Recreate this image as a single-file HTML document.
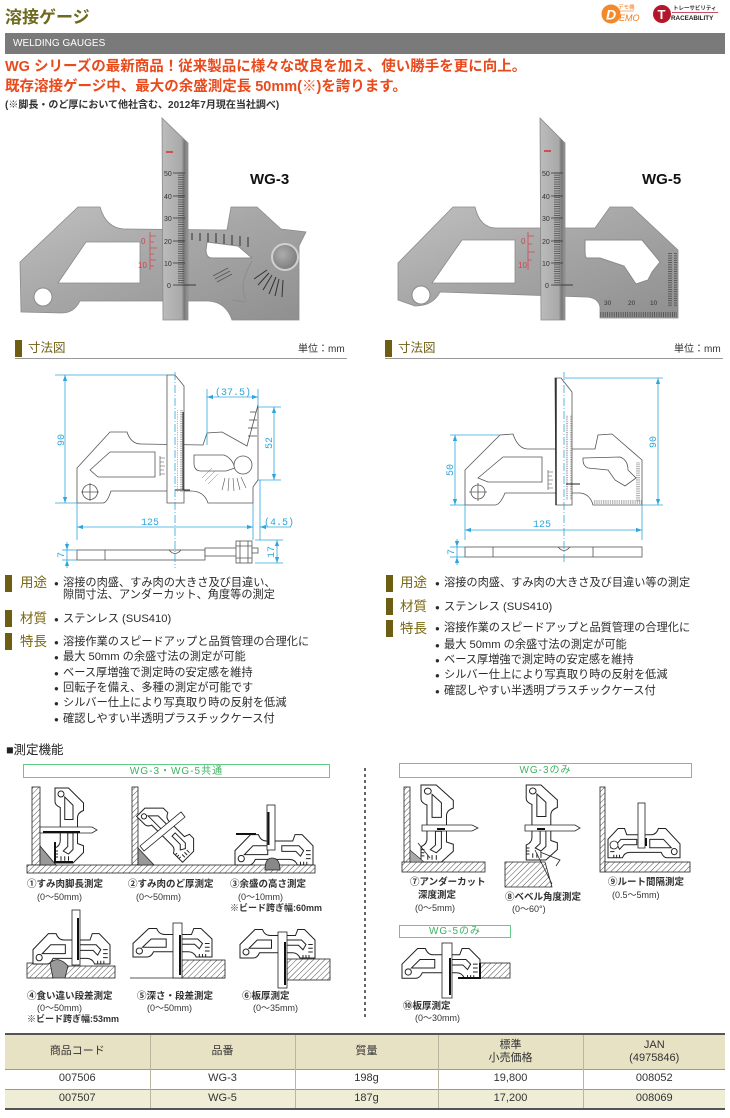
<!DOCTYPE html>
<html><head><meta charset="utf-8">
<style>
*{margin:0;padding:0;box-sizing:border-box}
body{width:730px;height:1118px;position:relative;overflow:hidden;background:#fff;font-family:"Liberation Sans","Noto Sans CJK JP",sans-serif;color:#2b2b2b}
.t{position:absolute;white-space:nowrap;line-height:1}
svg{position:absolute;left:0;top:0}
.bar{position:absolute;background:#6e5e14}
.lab{position:absolute;white-space:nowrap;line-height:1;font-size:13.5px;color:#7a6a12}
.b{position:absolute;white-space:nowrap;line-height:1;font-size:11.2px;color:#2b2b2b}
.b i{font-style:normal;font-size:8px;position:absolute;left:-9px;top:2px}
.cap{position:absolute;white-space:nowrap;line-height:1;font-size:9.5px;font-weight:bold;color:#333}
.sub{position:absolute;white-space:nowrap;line-height:1;font-size:9px;color:#333}
.gbox{position:absolute;border:1px solid #62cc84;color:#3db260;font-size:10px;text-align:center;letter-spacing:1px;line-height:1}
table{position:absolute;left:5px;top:1033px;width:720px;border-collapse:collapse;font-size:11px;color:#333;text-align:center;font-family:"Liberation Sans","Noto Sans CJK JP",sans-serif}
td{border-left:1px solid #b9b6a0;border-right:1px solid #b9b6a0;padding:0;line-height:1.2}
</style></head><body>
<svg width="730" height="1118" viewBox="0 0 730 1118">
<defs>
<linearGradient id="mt" x1="0" y1="0" x2="1" y2="1"><stop offset="0" stop-color="#c0c0c0"/><stop offset=".45" stop-color="#a7a7a7"/><stop offset="1" stop-color="#8f8f8f"/></linearGradient>
<linearGradient id="sl" x1="0" y1="0" x2="1" y2="0"><stop offset="0" stop-color="#bcbcbc"/><stop offset=".75" stop-color="#a9a9a9"/><stop offset=".86" stop-color="#777"/><stop offset="1" stop-color="#999"/></linearGradient>
<radialGradient id="kn" cx=".4" cy=".4" r=".65"><stop offset="0" stop-color="#adadad"/><stop offset="1" stop-color="#7a7a7a"/></radialGradient>
<pattern id="h" width="4" height="4" patternUnits="userSpaceOnUse" patternTransform="rotate(45)"><rect width="4" height="4" fill="#fff"/><line x1="0" y1="0" x2="0" y2="4" stroke="#222" stroke-width=".8"/></pattern>
<pattern id="tk" width="8" height="2.24" patternUnits="userSpaceOnUse"><line x1="2" y1=".5" x2="8" y2=".5" stroke="#333" stroke-width=".6"/></pattern>
<pattern id="tkv" width="2.24" height="8" patternUnits="userSpaceOnUse"><line x1=".5" y1="0" x2=".5" y2="5" stroke="#333" stroke-width=".6"/></pattern>
<pattern id="tk2" width="6" height="1.8" patternUnits="userSpaceOnUse"><line x1="0" y1=".4" x2="4" y2=".4" stroke="#444" stroke-width=".4"/></pattern>
<pattern id="tk2v" width="1.8" height="6" patternUnits="userSpaceOnUse"><line x1=".4" y1="2" x2=".4" y2="6" stroke="#444" stroke-width=".4"/></pattern>
<marker id="a" viewBox="0 0 6 6" refX="6" refY="3" markerWidth="6" markerHeight="6" markerUnits="userSpaceOnUse" orient="auto-start-reverse"><path d="M0,0.9 L6,3 L0,5.1z" fill="#2ea6dc"/></marker>
<g id="gb">
<path vector-effect="non-scaling-stroke" fill="#fff" stroke="#222" stroke-width="1" d="M0,40 L0,22 L20,2 L30,2 Q33,10 40,10 L74,10 L77,2 L86,2 L100,16 L100,40 L80,40 Q77,33 70,33 L26,33 Q23,40 18,40 Z"/>
<path vector-effect="non-scaling-stroke" fill="#fff" stroke="#222" stroke-width="1" d="M12,27 L23,16 L42,16 L42,27 Z"/>
<circle vector-effect="non-scaling-stroke" fill="#fff" stroke="#222" stroke-width="1" cx="8" cy="32" r="4"/>
<path vector-effect="non-scaling-stroke" fill="#fff" stroke="#222" stroke-width="1" d="M60,16 L82,16 L88,22 L84,29 L78,23 L60,23 Z"/>
<path vector-effect="non-scaling-stroke" fill="none" stroke="#222" stroke-width="1" d="M91,22 L97,22 M91,27 L97,27 M91,32 L97,32 M84,36 L84,40 M88,36 L88,40 M92,36 L92,40"/>
</g>
</defs>

<!-- logos -->
<circle cx="611" cy="14" r="9.5" fill="#f28a2a"/>
<text x="606" y="19.5" font-family="Liberation Sans" font-weight="bold" font-style="italic" font-size="14" fill="#fff">D</text>
<text x="618" y="9" font-family="Noto Sans CJK JP" font-size="5.5" fill="#f07a20">デモ機</text>
<line x1="618" y1="11" x2="634" y2="11" stroke="#f07a20" stroke-width=".6"/>
<text x="619" y="21" font-family="Liberation Sans" font-style="italic" font-size="9" fill="#f07a20">EMO</text>
<circle cx="662" cy="14" r="9" fill="#b5172a"/>
<text x="657.5" y="19" font-family="Liberation Sans" font-weight="bold" font-size="13" fill="#fff">T</text>
<text x="673" y="10" font-family="Noto Sans CJK JP" font-weight="bold" font-size="5.5" fill="#333">トレーサビリティ</text>
<line x1="672" y1="12.5" x2="718" y2="12.5" stroke="#b5172a" stroke-width=".7"/>
<text x="671" y="20" font-family="Liberation Sans" font-weight="bold" font-size="6.3" fill="#222">RACEABILITY</text>

<!-- WG-3 photo -->
<path d="M20,262 L78,207 L100,207 Q106,228 124,229 L227,230 L231,207 L257,207 L281,229 L306,232 L299,246 L299,320 L232,320 Q226,302 208,301 L80,301 Q74,313 62,313 L21,312 Z" fill="url(#mt)" stroke="#8a8a8a" stroke-width=".8"/>
<path d="M58,283 L86,242 L140,242 L140,283 Z" fill="#fff" stroke="#8a8a8a" stroke-width=".8"/>
<circle cx="43" cy="297" r="9" fill="#fff" stroke="#8a8a8a"/>
<path d="M207,242 L238,246 L252,258 L212,258 Q206,258 206,250 Z" fill="#fff" stroke="#8a8a8a"/>
<path d="M192,233 V240 M200,233 V241 M208,233 V242 M216,233 V243 M224,234 V244 M232,235 V245 M240,236 V246 M248,237 V247" stroke="#444" stroke-width="1.2"/>
<path d="M252,261 Q238,285 246,300 M232,300 L246,302" fill="none" stroke="#8d8d8d" stroke-width="1"/>
<path d="M283,280 L282,297 M279,279 L275,296 M276,277 L269,294 M272,275 L263,290 M269,273 L258,285 M267,270 L254,279" stroke="#333" stroke-width="1"/>
<path d="M213,276 L228,268 M215,279 L230,271 M217,282 L232,274" stroke="#555" stroke-width=".8"/>
<circle cx="285" cy="257" r="13" fill="url(#kn)" stroke="#d0d0d0" stroke-width="2"/>
<path d="M150,232 V270 M150,236 H156 M150,242 H154 M150,248 H157 M150,254 H154 M150,260 H156 M150,266 H154" stroke="#d24a55" stroke-width=".8"/>
<text x="141" y="244" font-family="Liberation Sans" font-size="8" fill="#d2404c">0</text>
<text x="138" y="268" font-family="Liberation Sans" font-size="8" fill="#d2404c">10</text>
<path d="M162,118 L188,143 L188,320 L163,320 Z" fill="url(#sl)" stroke="#8a8a8a" stroke-width=".8"/>
<rect x="176" y="172" width="8" height="114" fill="url(#tk)"/>
<path d="M173,173 H185 M173,196 H185 M173,218 H185 M173,241 H185 M173,263 H185 M173,285 H185" stroke="#333" stroke-width=".8"/>
<g font-family="Liberation Sans" font-size="7" fill="#333"><text x="164" y="176">50</text><text x="164" y="199">40</text><text x="164" y="221">30</text><text x="164" y="244">20</text><text x="164" y="266">10</text><text x="167" y="288">0</text></g>
<path d="M185,285 H196" stroke="#222" stroke-width=".8"/>
<line x1="166" y1="152" x2="173" y2="152" stroke="#d22" stroke-width="1.4"/>
<text x="250" y="184" font-family="Liberation Sans" font-weight="bold" font-size="15" fill="#111">WG-3</text>

<!-- WG-5 photo -->
<path d="M398,263 L453,207 L475,207 Q480,228 496,228 L595,228 L610,207 L632,207 L678,250 L678,318 L600,318 L600,307 Q598,297 585,297 L440,292 Q433,306 415,306 L398,300 Z" fill="url(#mt)" stroke="#8a8a8a" stroke-width=".8"/>
<path d="M432,283 L462,240 L515,240 L515,283 Z" fill="#fff" stroke="#8a8a8a" stroke-width=".8"/>
<circle cx="421" cy="295" r="9" fill="#fff" stroke="#8a8a8a"/>
<path d="M585,240 L642,240 L652,252 L660,262 L652,272 L648,280 L636,284 L624,266 L600,258 L587,258 Q585,258 585,250 Z" fill="#fff" stroke="#8a8a8a"/>
<rect x="600" y="309" width="77" height="9" fill="url(#tkv)"/>
<rect x="668" y="252" width="9" height="55" fill="url(#tk)"/>
<g font-family="Liberation Sans" font-size="6.5" fill="#333"><text x="604" y="305">30</text><text x="628" y="305">20</text><text x="650" y="305">10</text></g>
<path d="M528,232 V270 M528,236 H534 M528,244 H532 M528,252 H535 M528,260 H532" stroke="#d24a55" stroke-width=".8"/>
<text x="521" y="244" font-family="Liberation Sans" font-size="8" fill="#d2404c">0</text>
<text x="518" y="268" font-family="Liberation Sans" font-size="8" fill="#d2404c">10</text>
<path d="M540,118 L565,143 L565,320 L541,320 Z" fill="url(#sl)" stroke="#8a8a8a" stroke-width=".8"/>
<rect x="554" y="172" width="8" height="114" fill="url(#tk)"/>
<path d="M551,173 H563 M551,196 H563 M551,218 H563 M551,241 H563 M551,263 H563 M551,285 H563" stroke="#333" stroke-width=".8"/>
<g font-family="Liberation Sans" font-size="7" fill="#333"><text x="542" y="176">50</text><text x="542" y="199">40</text><text x="542" y="221">30</text><text x="542" y="244">20</text><text x="542" y="266">10</text><text x="545" y="288">0</text></g>
<path d="M563,285 H573" stroke="#222" stroke-width=".8"/>
<line x1="544" y1="151" x2="551" y2="151" stroke="#d22" stroke-width="1.4"/>
<text x="642" y="184" font-family="Liberation Sans" font-weight="bold" font-size="15" fill="#111">WG-5</text>

<!-- section underlines -->
<line x1="15" y1="358.5" x2="347" y2="358.5" stroke="#999" stroke-width="1"/>
<line x1="385" y1="358.5" x2="723" y2="358.5" stroke="#999" stroke-width="1"/>

<!-- Left dimension drawing -->
<g fill="#fff" stroke="#555" stroke-width=".8">
<path d="M77,503 L77,468 L110,432 L127,432 Q131,444 141,444 L203,445 L207,433 L222,432 L247,446 L258,405 L258,480 L253,487 L253,503 L208,503 Q204,491 191,491 L111,491 Q107,503 103,503 Z"/>
<path d="M90,470 L110,452 L155,452 L155,477 L98,477 Z"/>
<circle cx="90" cy="492" r="7.5"/>
<path d="M81,492 H99 M90,483 V501" fill="none"/>
<path d="M194,455 L224,455 Q232,458 235,468 L226,471 L201,471 Q194,471 194,463 Z"/>
<circle cx="243" cy="465" r="9"/>
<path d="M167,375 L175,375 L184,386 L184,503 L167,503 Z"/>
</g>
<rect x="177" y="410" width="6" height="82" fill="url(#tk2)"/>
<path d="M183,412 V490 M175,490 H190" stroke="#222" stroke-width="1"/>
<path d="M160,456 V476 M160,458 H165 M160,462 H164 M160,466 H165 M160,470 H164 M160,474 H165" stroke="#444" stroke-width=".6"/>
<path d="M250,412 L256,412 M249,420 L257,420 M248,428 L257,428 M248,436 L257,436" stroke="#444" stroke-width=".7"/>
<path d="M225,478 L222,490 M229,478 L228,491 M233,478 L234,491 M237,478 L240,490 M241,477 L246,488" stroke="#555" stroke-width=".6"/>
<path d="M202,478 L212,468 M205,481 L215,471 M208,484 L218,474" stroke="#777" stroke-width=".5"/>
<g fill="#fff" stroke="#555" stroke-width=".8">
<rect x="77" y="550" width="128" height="10"/>
<line x1="105" y1="550" x2="105" y2="560"/>
<path d="M169,550 Q175,557 181,550" fill="none"/>
<rect x="205" y="548" width="32" height="8"/>
<rect x="236" y="541" width="16" height="22"/>
<path d="M236,546 H252 M236,558 H252 M240,541 V563 M248,541 V563" fill="none"/>
<rect x="252" y="548" width="6" height="5"/>
</g>
<g stroke="#2ea6dc" stroke-width=".8" fill="none">
<line x1="175" y1="372" x2="175" y2="568" stroke-dasharray="8 2 1 2"/>
<line x1="55" y1="375" x2="167" y2="375"/>
<line x1="55" y1="503" x2="77" y2="503"/>
<line x1="65" y1="375" x2="65" y2="503" marker-start="url(#a)" marker-end="url(#a)"/>
<line x1="207" y1="389" x2="207" y2="445"/>
<line x1="258" y1="389" x2="258" y2="405"/>
<line x1="207" y1="397" x2="258" y2="397" marker-start="url(#a)" marker-end="url(#a)"/>
<line x1="258" y1="407" x2="281" y2="407"/>
<line x1="258" y1="480" x2="281" y2="480"/>
<line x1="274" y1="407" x2="274" y2="480" marker-start="url(#a)" marker-end="url(#a)"/>
<line x1="77" y1="503" x2="77" y2="540"/>
<line x1="253" y1="503" x2="253" y2="540"/>
<line x1="260" y1="480" x2="260" y2="540"/>
<line x1="77" y1="527" x2="253" y2="527" marker-start="url(#a)" marker-end="url(#a)"/>
<line x1="260" y1="527" x2="291" y2="527" marker-start="url(#a)"/>
<line x1="62" y1="550" x2="77" y2="550"/>
<line x1="62" y1="560" x2="77" y2="560"/>
<line x1="67" y1="542" x2="67" y2="550" marker-end="url(#a)"/>
<line x1="67" y1="568" x2="67" y2="560" marker-end="url(#a)"/>
<line x1="67" y1="550" x2="67" y2="560"/>
<line x1="255" y1="540" x2="283" y2="540"/>
<line x1="255" y1="563" x2="283" y2="563"/>
<line x1="277" y1="540" x2="277" y2="563" marker-start="url(#a)" marker-end="url(#a)"/>
</g>
<g font-family="Liberation Mono" font-size="10" fill="#2ea6dc">
<text transform="translate(64,440) rotate(-90)" text-anchor="middle">90</text>
<text x="233" y="395" text-anchor="middle">(37.5)</text>
<text transform="translate(272,443) rotate(-90)" text-anchor="middle">52</text>
<text x="150" y="525" text-anchor="middle">125</text>
<text x="264" y="525">(4.5)</text>
<text transform="translate(64,555) rotate(-90)" text-anchor="middle">7</text>
<text transform="translate(274,552) rotate(-90)" text-anchor="middle">17</text>
</g>

<!-- Right dimension drawing -->
<g fill="#fff" stroke="#555" stroke-width=".8">
<path d="M465,505 L465,470 L500,435 L513,434 Q518,449 528,449 L595,449 L598,435 L612,434 L642,460 L642,505 L593,505 Q590,494 580,493 L505,493 Q500,505 495,505 Z"/>
<path d="M478,478 L503,457 L542,457 L542,482 L488,482 Z"/>
<circle cx="478" cy="492" r="7"/>
<path d="M469,492 H487 M478,483 V501" fill="none"/>
<path d="M583,458 L620,457 Q628,460 628,470 L636,478 L625,486 L615,480 L608,470 L588,468 Q583,466 583,460 Z"/>
<path d="M555,378 L561,378 L572,392 L572,505 L556,505 Z"/>
</g>
<line x1="556" y1="378" x2="556" y2="505" stroke="#222" stroke-width="1.4"/>
<rect x="566" y="415" width="6" height="85" fill="url(#tk2)"/>
<path d="M566,484 H580" stroke="#222" stroke-width="1"/>
<rect x="593" y="499" width="49" height="6" fill="url(#tk2v)"/>
<rect x="636" y="462" width="6" height="40" fill="url(#tk2)"/>
<path d="M548,470 V490 M548,472 H553 M548,476 H552 M548,480 H553 M548,484 H552 M548,488 H553" stroke="#444" stroke-width=".6"/>
<g fill="#fff" stroke="#555" stroke-width=".8">
<rect x="465" y="547" width="177" height="10"/>
<path d="M493,547 V557 M593,547 V557" fill="none"/>
<path d="M558,547 Q564,554 570,547" fill="none"/>
</g>
<g stroke="#2ea6dc" stroke-width=".8" fill="none">
<line x1="564" y1="372" x2="564" y2="562" stroke-dasharray="8 2 1 2"/>
<line x1="565" y1="378" x2="663" y2="378"/>
<line x1="642" y1="505" x2="663" y2="505"/>
<line x1="658" y1="378" x2="658" y2="505" marker-start="url(#a)" marker-end="url(#a)"/>
<line x1="450" y1="435" x2="500" y2="435"/>
<line x1="450" y1="505" x2="465" y2="505"/>
<line x1="455" y1="435" x2="455" y2="505" marker-start="url(#a)" marker-end="url(#a)"/>
<line x1="465" y1="505" x2="465" y2="540"/>
<line x1="642" y1="505" x2="642" y2="540"/>
<line x1="465" y1="530" x2="642" y2="530" marker-start="url(#a)" marker-end="url(#a)"/>
<line x1="450" y1="547" x2="465" y2="547"/>
<line x1="450" y1="557" x2="465" y2="557"/>
<line x1="457" y1="539" x2="457" y2="547" marker-end="url(#a)"/>
<line x1="457" y1="565" x2="457" y2="557" marker-end="url(#a)"/>
<line x1="457" y1="547" x2="457" y2="557"/>
</g>
<g font-family="Liberation Mono" font-size="10" fill="#2ea6dc">
<text transform="translate(656,442) rotate(-90)" text-anchor="middle">90</text>
<text transform="translate(453,470) rotate(-90)" text-anchor="middle">50</text>
<text x="542" y="527" text-anchor="middle">125</text>
<text transform="translate(454,552) rotate(-90)" text-anchor="middle">7</text>
</g>

<!-- measurement figures -->
<line x1="365" y1="768" x2="365" y2="1020" stroke="#333" stroke-width="1.5" stroke-dasharray="3 3"/>
<!-- fig1 -->
<rect x="32" y="787" width="8" height="78" fill="url(#h)" stroke="#222" stroke-width=".8"/>
<use href="#gb" transform="translate(85,788) rotate(90) scale(.75)"/>
<path d="M40,827 L92,827 L97,830 L92,833 L40,833 Z" fill="#fff" stroke="#222" stroke-width=".8"/>
<line x1="43" y1="832" x2="80" y2="832" stroke="#111" stroke-width="2"/>
<path d="M55,842 V862 H73" fill="none" stroke="#111" stroke-width="2"/>
<!-- fig2 -->
<rect x="132" y="787" width="6" height="78" fill="url(#h)" stroke="#222" stroke-width=".8"/>
<use href="#gb" transform="translate(155,798) rotate(45) scale(.65)"/>
<path d="M140,846 L181,812 L185,817 L144,851 Z" fill="#fff" stroke="#222" stroke-width=".8"/>
<!-- ground 1-3 -->
<rect x="27" y="865" width="288" height="8" fill="url(#h)" stroke="#222" stroke-width=".8"/>
<path d="M40,846 L40,865 L56,865 Z" fill="#999" stroke="#222" stroke-width=".8"/>
<path d="M138,848 L138,865 L154,865 Z" fill="#999" stroke="#222" stroke-width=".8"/>
<!-- fig3 -->
<use href="#gb" transform="translate(235,833) scale(.78,.8)"/>
<rect x="267" y="805" width="8" height="45" fill="#fff" stroke="#222" stroke-width=".8"/>
<line x1="268.5" y1="812" x2="268.5" y2="845" stroke="#111" stroke-width="2"/>
<line x1="236" y1="834" x2="256" y2="834" stroke="#111" stroke-width="2"/>
<path d="M265,870 Q265,858 272,858 Q280,858 280,870 Z" fill="#888" stroke="#222" stroke-width=".8"/>
<!-- fig4 -->
<rect x="27" y="963" width="26" height="15" fill="url(#h)" stroke="#222" stroke-width=".8"/>
<rect x="65" y="966" width="50" height="12" fill="url(#h)" stroke="#222" stroke-width=".8"/>
<path d="M50,963 Q58,955 68,966 L65,978 L53,978 Z" fill="#999" stroke="#222" stroke-width=".8"/>
<use href="#gb" transform="translate(33,932) scale(.77,.8)"/>
<rect x="72" y="910" width="8" height="55" fill="#fff" stroke="#222" stroke-width=".8"/>
<line x1="78" y1="918" x2="78" y2="960" stroke="#111" stroke-width="2"/>
<!-- fig5 -->
<line x1="130" y1="978" x2="225" y2="978" stroke="#222" stroke-width=".8"/>
<rect x="182" y="960" width="43" height="18" fill="url(#h)" stroke="#222" stroke-width=".8"/>
<use href="#gb" transform="translate(133,927) scale(.79,.75)"/>
<rect x="173" y="923" width="9" height="55" fill="#fff" stroke="#222" stroke-width=".8"/>
<line x1="180" y1="935" x2="180" y2="975" stroke="#111" stroke-width="2"/>
<!-- fig6 -->
<rect x="287" y="959" width="43" height="21" fill="url(#h)" stroke="#222" stroke-width=".8"/>
<use href="#gb" transform="translate(240,928) scale(.75)"/>
<rect x="278" y="932" width="9" height="56" fill="#fff" stroke="#222" stroke-width=".8"/>
<line x1="285" y1="942" x2="285" y2="985" stroke="#111" stroke-width="2"/>
<!-- fig7 -->
<rect x="404" y="787" width="6" height="76" fill="url(#h)" stroke="#222" stroke-width=".8"/>
<rect x="402" y="862" width="83" height="10" fill="url(#h)" stroke="#222" stroke-width=".8"/>
<use href="#gb" transform="translate(455,785) rotate(90) scale(.77,.85)"/>
<path d="M422,825 L472,825 L478,828 L472,831 L422,831 Z" fill="#fff" stroke="#222" stroke-width=".8"/>
<line x1="437" y1="829" x2="445" y2="829" stroke="#111" stroke-width="2"/>
<path d="M410,850 L410,862 L424,862 Z" fill="#aaa" stroke="#222" stroke-width=".6"/>
<line x1="418" y1="843" x2="430" y2="858" stroke="#222" stroke-width=".8"/>
<!-- fig8 -->
<path d="M505,862 L545,862 L552,887 L505,887 Z" fill="url(#h)" stroke="#222" stroke-width=".8"/>
<use href="#gb" transform="translate(559,785) rotate(90) scale(.75,.82)"/>
<path d="M525,825 L575,825 L580,828 L575,831 L525,831 Z" fill="#fff" stroke="#222" stroke-width=".8"/>
<line x1="537" y1="829" x2="545" y2="829" stroke="#111" stroke-width="2"/>
<path d="M535,850 L552,884 M540,852 L560,860 L556,866" fill="none" stroke="#222" stroke-width=".8"/>
<!-- fig9 -->
<rect x="600" y="787" width="5" height="85" fill="url(#h)" stroke="#222" stroke-width=".8"/>
<rect x="605" y="862" width="85" height="10" fill="url(#h)" stroke="#222" stroke-width=".8"/>
<use href="#gb" transform="translate(680,827) scale(-.72,.77)"/>
<rect x="638" y="803" width="7" height="45" fill="#fff" stroke="#222" stroke-width=".8"/>
<line x1="646" y1="838" x2="646" y2="846" stroke="#111" stroke-width="2"/>
<circle cx="614" cy="845" r="4" fill="#fff" stroke="#222" stroke-width=".8"/>
<!-- fig10 -->
<rect x="480" y="963" width="30" height="15" fill="url(#h)" stroke="#222" stroke-width=".8"/>
<use href="#gb" transform="translate(402,947) scale(.78)"/>
<rect x="442" y="943" width="10" height="55" fill="#fff" stroke="#222" stroke-width=".8"/>
<line x1="450" y1="958" x2="450" y2="995" stroke="#111" stroke-width="2"/>
<path d="M458,978 H480 V963" fill="none" stroke="#111" stroke-width="2"/>
</svg>

<!-- header -->
<div class="t" style="left:5px;top:9px;font-size:17px;font-weight:bold;color:#6c6a1d">溶接ゲージ</div>
<div class="t" style="left:5px;top:33px;width:720px;height:21px;background:#7b7a7a"></div>
<div class="t" style="left:13px;top:38.5px;font-size:10px;color:#fff">WELDING GAUGES</div>
<div class="t" style="left:5px;top:60px;font-size:14.5px;font-weight:bold;color:#e94a1c">WG シリーズの最新商品！従来製品に様々な改良を加え、使い勝手を更に向上。</div>
<div class="t" style="left:5px;top:80px;font-size:14.5px;font-weight:bold;color:#e94a1c">既存溶接ゲージ中、最大の余盛測定長 50mm(※)を誇ります。</div>
<div class="t" style="left:5px;top:101px;font-size:10px;font-weight:bold;color:#333">(※脚長・のど厚において他社含む、2012年7月現在当社調べ)</div>

<!-- 寸法図 headings -->
<div class="bar" style="left:15px;top:340px;width:7px;height:17px"></div>
<div class="t" style="left:28px;top:342px;font-size:12.5px;color:#6e5e14">寸法図</div>
<div class="t" style="left:298px;top:345px;font-size:10px;color:#333">単位：mm</div>
<div class="bar" style="left:385px;top:340px;width:7px;height:17px"></div>
<div class="t" style="left:398px;top:342px;font-size:12.5px;color:#6e5e14">寸法図</div>
<div class="t" style="left:674px;top:345px;font-size:10px;color:#333">単位：mm</div>

<!-- left spec -->
<div class="bar" style="left:5px;top:575px;width:7px;height:17px"></div>
<div class="lab" style="left:20px;top:576px">用途</div>
<div class="b" style="left:63px;top:577.5px"><i>●</i>溶接の肉盛、すみ肉の大きさ及び目違い、</div>
<div class="b" style="left:63px;top:589.5px">隙間寸法、アンダーカット、角度等の測定</div>
<div class="bar" style="left:5px;top:610px;width:7px;height:17px"></div>
<div class="lab" style="left:20px;top:612px">材質</div>
<div class="b" style="left:63px;top:613.5px"><i>●</i>ステンレス (SUS410)</div>
<div class="bar" style="left:5px;top:633px;width:7px;height:17px"></div>
<div class="lab" style="left:20px;top:635px">特長</div>
<div class="b" style="left:63px;top:636.5px"><i>●</i>溶接作業のスピードアップと品質管理の合理化に</div>
<div class="b" style="left:63px;top:651.5px"><i>●</i>最大 50mm の余盛寸法の測定が可能</div>
<div class="b" style="left:63px;top:667.5px"><i>●</i>ベース厚増強で測定時の安定感を維持</div>
<div class="b" style="left:63px;top:682.5px"><i>●</i>回転子を備え、多種の測定が可能です</div>
<div class="b" style="left:63px;top:697.5px"><i>●</i>シルバー仕上により写真取り時の反射を低減</div>
<div class="b" style="left:63px;top:713.5px"><i>●</i>確認しやすい半透明プラスチックケース付</div>

<!-- right spec -->
<div class="bar" style="left:386px;top:575px;width:7px;height:17px"></div>
<div class="lab" style="left:400px;top:576px">用途</div>
<div class="b" style="left:444px;top:577.5px"><i>●</i>溶接の肉盛、すみ肉の大きさ及び目違い等の測定</div>
<div class="bar" style="left:386px;top:598px;width:7px;height:17px"></div>
<div class="lab" style="left:400px;top:600px">材質</div>
<div class="b" style="left:444px;top:601.5px"><i>●</i>ステンレス (SUS410)</div>
<div class="bar" style="left:386px;top:620px;width:7px;height:17px"></div>
<div class="lab" style="left:400px;top:622px">特長</div>
<div class="b" style="left:444px;top:622.5px"><i>●</i>溶接作業のスピードアップと品質管理の合理化に</div>
<div class="b" style="left:444px;top:639.5px"><i>●</i>最大 50mm の余盛寸法の測定が可能</div>
<div class="b" style="left:444px;top:654.5px"><i>●</i>ベース厚増強で測定時の安定感を維持</div>
<div class="b" style="left:444px;top:669.5px"><i>●</i>シルバー仕上により写真取り時の反射を低減</div>
<div class="b" style="left:444px;top:685.5px"><i>●</i>確認しやすい半透明プラスチックケース付</div>

<!-- measurement -->
<div class="t" style="left:6px;top:743.5px;font-size:12.5px;color:#222">■測定機能</div>
<div class="gbox" style="left:23px;top:764px;width:307px;height:14px;padding-top:1.5px">WG-3・WG-5共通</div>
<div class="gbox" style="left:399px;top:763px;width:293px;height:15px;padding-top:2px">WG-3のみ</div>
<div class="gbox" style="left:399px;top:925px;width:112px;height:13px;padding-top:1px">WG-5のみ</div>

<div class="cap" style="left:27px;top:880px">①すみ肉脚長測定</div>
<div class="sub" style="left:37px;top:892.5px">(0〜50mm)</div>
<div class="cap" style="left:128px;top:880px">②すみ肉のど厚測定</div>
<div class="sub" style="left:136px;top:892.5px">(0〜50mm)</div>
<div class="cap" style="left:230px;top:880px">③余盛の高さ測定</div>
<div class="sub" style="left:238px;top:892.5px">(0〜10mm)</div>
<div class="sub" style="left:230px;top:903.5px;font-weight:bold">※ビード跨ぎ幅:60mm</div>
<div class="cap" style="left:27px;top:992px">④食い違い段差測定</div>
<div class="sub" style="left:37px;top:1003.5px">(0〜50mm)</div>
<div class="sub" style="left:27px;top:1015px;font-weight:bold">※ビード跨ぎ幅:53mm</div>
<div class="cap" style="left:137px;top:992px">⑤深さ・段差測定</div>
<div class="sub" style="left:147px;top:1003.5px">(0〜50mm)</div>
<div class="cap" style="left:242px;top:992px">⑥板厚測定</div>
<div class="sub" style="left:253px;top:1003.5px">(0〜35mm)</div>
<div class="cap" style="left:410px;top:878px">⑦アンダーカット</div>
<div class="cap" style="left:418px;top:891px">深度測定</div>
<div class="sub" style="left:415px;top:903.5px">(0〜5mm)</div>
<div class="cap" style="left:505px;top:893px">⑧ベベル角度測定</div>
<div class="sub" style="left:512px;top:904.5px">(0〜60°)</div>
<div class="cap" style="left:608px;top:878px">⑨ルート間隔測定</div>
<div class="sub" style="left:612px;top:891px">(0.5〜5mm)</div>
<div class="cap" style="left:403px;top:1002px">⑩板厚測定</div>
<div class="sub" style="left:415px;top:1013.5px">(0〜30mm)</div>

<table>
<tr style="background:#e8e2c4;height:35px;border-top:2px solid #555">
<td style="width:145px;border-left:none">商品コード</td><td style="width:145px">品番</td><td style="width:143px">質量</td><td style="width:145px">標準<br>小売価格</td><td style="width:142px;border-right:none">JAN<br>(4975846)</td></tr>
<tr style="background:#fff;height:20px;border-top:1px solid #999"><td style="border-left:none">007506</td><td>WG-3</td><td>198g</td><td>19,800</td><td style="border-right:none">008052</td></tr>
<tr style="background:#f0edd6;height:20px;border-top:1px solid #999;border-bottom:2px solid #555"><td style="border-left:none">007507</td><td>WG-5</td><td>187g</td><td>17,200</td><td style="border-right:none">008069</td></tr>
</table>
</body></html>
